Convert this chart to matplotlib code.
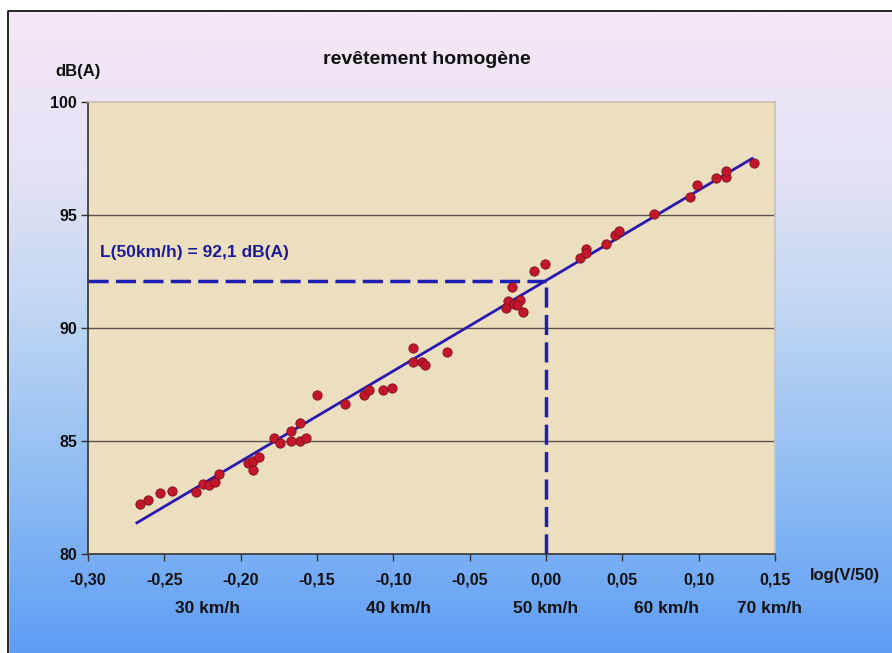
import numpy as np
import matplotlib
matplotlib.use("Agg")
import matplotlib.pyplot as plt
from matplotlib.colors import LinearSegmentedColormap
from matplotlib.patches import Rectangle

plt.rcParams['font.family'] = ['Liberation Sans', 'DejaVu Sans']
plt.rcParams['font.weight'] = 'bold'

# measured points: x = log(V/50), y = level in dB(A)
log_v = [-0.266, -0.261, -0.253, -0.245, -0.229, -0.225, -0.221, -0.217, -0.214,
         -0.195, -0.192, -0.188, -0.192, -0.178, -0.174, -0.167, -0.161, -0.167,
         -0.161, -0.157, -0.150, -0.132, -0.119, -0.116, -0.107, -0.101, -0.087,
         -0.087, -0.081, -0.079, -0.065, -0.022, -0.025, -0.026, -0.021, -0.017,
         -0.019, -0.015, -0.008, -0.001, 0.022, 0.026, 0.026, 0.039, 0.045,
         0.048, 0.071, 0.094, 0.099, 0.111, 0.118, 0.118, 0.136]
level = [82.21, 82.40, 82.70, 82.79, 82.76, 83.10, 83.05, 83.19, 83.54,
         84.01, 84.12, 84.28, 83.70, 85.13, 84.93, 85.44, 85.78, 84.99,
         84.99, 85.12, 87.02, 86.62, 87.02, 87.26, 87.26, 87.33, 89.13,
         88.48, 88.48, 88.36, 88.92, 91.83, 91.21, 90.90, 91.06, 91.24,
         91.02, 90.72, 92.51, 92.83, 93.10, 93.50, 93.31, 93.70, 94.12,
         94.29, 95.04, 95.81, 96.34, 96.64, 96.67, 96.96, 97.31]

# regression line L = L50 + slope * log(V/50)
L50 = 92.1
slope = 40.0
line_x = [-0.268, 0.135]

x_ticks = [-0.30, -0.25, -0.20, -0.15, -0.10, -0.05, 0.00, 0.05, 0.10, 0.15]
y_ticks = [80, 85, 90, 95, 100]
speeds = [30, 40, 50, 60, 70]

fig = plt.figure(figsize=(8.92, 6.53), dpi=100)

# background gradient
bg = fig.add_axes([0, 0, 1, 1], zorder=-10)
cmap = LinearSegmentedColormap.from_list(
    'bg', [(0.0, '#F7E8F5'), (0.25, '#E6E2F5'), (0.45, '#C5D9F2'), (0.75, '#8DBBF3'), (1.0, '#5E9DF5')])
grad = np.linspace(0, 1, 256).reshape(-1, 1)
bg.imshow(grad, aspect='auto', cmap=cmap, extent=[0, 1, 0, 1], origin='upper')
bg.add_patch(Rectangle((0, 0.983), 1, 0.02, color='white', zorder=2))
bg.add_patch(Rectangle((0, 0), 0.009, 1, color='white', zorder=2))
bg.plot([0.009, 0.009, 1], [0, 0.983, 0.983], color='black', lw=1.2, zorder=3)
bg.set_xlim(0, 1)
bg.set_ylim(0, 1)
bg.axis('off')

ax = fig.add_axes([0.0987, 0.1516, 0.7702, 0.6922])
ax.set_facecolor('#ECDFC0')
ax.set_xlim(-0.30, 0.15)
ax.set_ylim(80, 100)

for yv in [85, 90, 95]:
    ax.axhline(yv, color='#5a5248', lw=1.0, zorder=1)

ax.spines['top'].set_color('#c9c2b6')
ax.spines['right'].set_color('#c9c2b6')
ax.spines['left'].set_color('#333333')
ax.spines['bottom'].set_color('#333333')
for s in ax.spines.values():
    s.set_linewidth(1.2)

ax.set_xticks(x_ticks)
ax.set_xticklabels([f"{t:.2f}".replace('.', ',') for t in x_ticks])
ax.set_yticks(y_ticks)
ax.tick_params(direction='out', length=5, width=1, color='#333333',
               labelsize=11.5, labelcolor='#111111')
ax.tick_params(axis='x', pad=8)
ax.tick_params(axis='y', pad=3)

# dashed guides at 50 km/h
ax.plot([-0.30, 0.0], [L50, L50], color='#1f1fb4', lw=2.5, ls=(0, (5.8, 2.1)), zorder=2)
ax.plot([0.0, 0.0], [80, L50], color='#1f1fb4', lw=2.5, ls=(0, (5.8, 2.1)), zorder=2)

# regression line
lx = np.array(line_x)
ax.plot(lx, L50 + slope * lx, color='#2a18b0', lw=2.0, zorder=3)

ax.scatter(log_v, level, s=45, color='#c4162a', edgecolor='#7a1020', linewidth=0.6, zorder=4)

ax.text(-0.292, 93.0, "L(50km/h) = 92,1 dB(A)", color='#1c1c9a', fontsize=12.5,
        fontweight='bold', va='bottom', ha='left')

# speed labels under the axis
for v in speeds:
    ax.text(np.log10(v / 50), 77.6, f"{v} km/h", ha='center', va='center',
            fontsize=12.5, fontweight='bold', color='#111111')

ax.text(0.196, 79.05, "log(V/50)", ha='center', va='center', fontsize=12,
        fontweight='bold', color='#111111', clip_on=False)
fig.text(0.088, 0.89, "dB(A)", ha='center', va='center', fontsize=12, fontweight='bold', color='#111111')
fig.text(0.478, 0.909, "revêtement homogène", ha='center', va='center', fontsize=14,
         fontweight='bold', color='#111111')

fig.savefig('out.png', dpi=100)
